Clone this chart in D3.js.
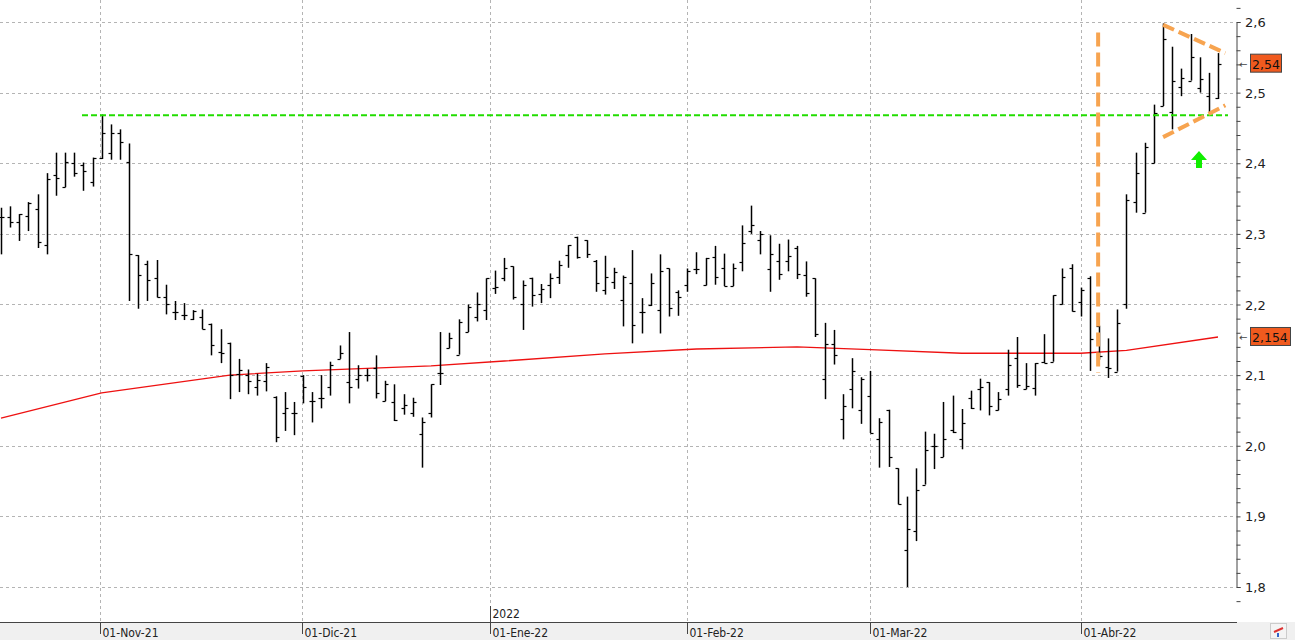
<!DOCTYPE html>
<html><head><meta charset="utf-8">
<script src="https://cdn.jsdelivr.net/npm/d3@7"></script>
<style>body{margin:0;background:#fff}svg{display:block}</style>
</head><body><svg id="c" width="1295" height="640"></svg>
<script>
// OHLC bars, one per trading day (index 0..133)
const open  = [2.324,2.324,2.317,2.326,2.335,2.284,2.383,2.367,2.400,2.398,2.373,2.407,2.415,2.443,2.402,2.270,2.257,2.238,2.210,2.190,2.185,2.179,2.183,2.173,2.133,2.146,2.101,2.100,2.083,2.092,2.069,2.046,2.047,2.099,2.063,2.067,2.083,2.123,2.090,2.095,2.100,2.110,2.063,2.062,2.054,2.047,2.016,2.046,2.103,2.139,2.129,2.161,2.183,2.192,2.223,2.238,2.254,2.201,2.238,2.215,2.227,2.239,2.270,2.296,2.291,2.262,2.220,2.232,2.206,2.230,2.190,2.199,2.192,2.251,2.218,2.227,2.250,2.227,2.267,2.251,2.226,2.260,2.304,2.291,2.250,2.262,2.262,2.280,2.242,2.237,2.095,2.144,2.038,2.080,2.050,2.070,2.009,2.050,1.968,1.853,1.879,1.945,1.999,1.984,2.023,2.009,2.067,2.080,2.090,2.050,2.080,2.124,2.080,2.082,2.119,2.119,2.200,2.251,2.204,2.238,2.170,2.112,2.105,2.200,2.345,2.330,2.400,2.481,2.472,2.508,2.517,2.507,2.495,2.492];
const high  = [2.337,2.339,2.328,2.345,2.356,2.386,2.415,2.415,2.415,2.401,2.408,2.469,2.455,2.448,2.428,2.270,2.262,2.263,2.228,2.205,2.202,2.192,2.193,2.173,2.165,2.146,2.123,2.108,2.102,2.117,2.070,2.076,2.062,2.100,2.076,2.100,2.119,2.142,2.161,2.114,2.109,2.128,2.092,2.087,2.073,2.068,2.040,2.087,2.161,2.160,2.179,2.200,2.217,2.237,2.248,2.266,2.254,2.234,2.238,2.229,2.244,2.262,2.284,2.296,2.291,2.263,2.269,2.252,2.241,2.277,2.209,2.244,2.271,2.251,2.220,2.251,2.274,2.266,2.283,2.272,2.258,2.312,2.340,2.304,2.298,2.286,2.292,2.283,2.261,2.237,2.174,2.164,2.073,2.124,2.097,2.106,2.039,2.051,1.968,1.928,1.968,2.020,2.017,2.062,2.071,2.052,2.078,2.095,2.090,2.076,2.136,2.154,2.117,2.117,2.158,2.213,2.251,2.257,2.224,2.240,2.170,2.152,2.193,2.356,2.415,2.429,2.483,2.598,2.565,2.534,2.583,2.550,2.528,2.556];
const low   = [2.271,2.309,2.290,2.304,2.280,2.271,2.354,2.366,2.381,2.361,2.367,2.406,2.405,2.405,2.205,2.194,2.205,2.210,2.186,2.178,2.178,2.178,2.165,2.128,2.117,2.066,2.076,2.073,2.071,2.077,2.005,2.021,2.015,2.060,2.033,2.053,2.071,2.123,2.060,2.081,2.091,2.067,2.063,2.035,2.044,2.041,1.969,2.040,2.086,2.138,2.129,2.161,2.176,2.178,2.215,2.233,2.207,2.164,2.197,2.202,2.209,2.229,2.252,2.265,2.266,2.218,2.214,2.222,2.169,2.145,2.159,2.198,2.159,2.183,2.184,2.218,2.243,2.227,2.228,2.226,2.226,2.247,2.300,2.271,2.218,2.235,2.247,2.236,2.211,2.154,2.066,2.115,2.009,2.053,2.031,2.018,1.969,1.970,1.917,1.800,1.865,1.945,1.967,1.984,2.018,1.995,2.052,2.050,2.043,2.050,2.071,2.082,2.080,2.071,2.117,2.119,2.200,2.190,2.183,2.106,2.122,2.096,2.105,2.194,2.330,2.330,2.400,2.481,2.448,2.495,2.517,2.500,2.472,2.491];
const close = [2.324,2.317,2.328,2.344,2.289,2.377,2.379,2.402,2.386,2.389,2.407,2.443,2.443,2.430,2.271,2.242,2.235,2.211,2.200,2.190,2.185,2.191,2.165,2.142,2.132,2.100,2.107,2.092,2.093,2.112,2.013,2.054,2.047,2.083,2.063,2.067,2.115,2.132,2.083,2.100,2.100,2.074,2.087,2.036,2.058,2.062,2.034,2.087,2.103,2.152,2.175,2.196,2.201,2.237,2.225,2.251,2.210,2.228,2.213,2.222,2.238,2.256,2.284,2.267,2.272,2.230,2.239,2.246,2.239,2.171,2.189,2.230,2.247,2.195,2.210,2.248,2.250,2.266,2.239,2.226,2.252,2.287,2.312,2.300,2.271,2.243,2.268,2.243,2.216,2.158,2.144,2.128,2.056,2.106,2.094,2.018,2.033,1.984,1.917,1.882,1.938,1.994,1.999,2.009,2.020,2.032,2.053,2.083,2.056,2.066,2.114,2.086,2.084,2.117,2.117,2.213,2.239,2.191,2.220,2.151,2.127,2.110,2.174,2.348,2.386,2.423,2.471,2.576,2.517,2.521,2.550,2.520,2.473,2.541];
// moving average read at selected bar indices
const maIdx = [0,11,25,33,47,55,66,76,87,95,105,118,123,133];
const maVal = [2.039,2.075,2.100,2.106,2.113,2.120,2.130,2.137,2.140,2.136,2.131,2.131,2.135,2.154];
const monthIdx = [10.8,32.9,53.4,75,95,118];
const monthLabels = ["01-Nov-21","01-Dic-21","01-Ene-22","01-Feb-22","01-Mar-22","01-Abr-22"];
const yTicks = [1.8,1.9,2.0,2.1,2.2,2.3,2.4,2.5,2.6];
const resistance = 2.468;
const vLineIdx = 119.9, vLine = [2.103,2.585];
const triUpper = [[127,2.596],[133.8,2.556]];
const triLower = [[127,2.437],[133.8,2.482]];
const lastPrice = "2,54", lastMA = "2,154";

const svg = d3.select("#c");
const x = d3.scaleLinear().domain([0,133]).range([1,1218]);
const y = d3.scaleLinear().domain([1.8,2.6]).range([587,22]);
const fmt = v => d3.format(".1f")(v).replace(".",",");

svg.append("rect").attr("x",0).attr("y",622).attr("width",1295).attr("height",18).attr("fill","#f0f0f0");
svg.append("g").selectAll("line").data(yTicks).join("line")
  .attr("x1",0).attr("x2",1236).attr("y1",d=>Math.round(y(d))+.5).attr("y2",d=>Math.round(y(d))+.5)
  .attr("stroke","#b4b4b4").attr("stroke-dasharray","3,3");
svg.append("g").selectAll("line").data(monthIdx).join("line")
  .attr("x1",d=>Math.round(x(d))+.5).attr("x2",d=>Math.round(x(d))+.5).attr("y1",0).attr("y2",622)
  .attr("stroke","#b4b4b4").attr("stroke-dasharray","3,3");
const ya = svg.append("g").attr("transform","translate(1236.5,0)")
  .call(d3.axisRight(y).tickValues(d3.range(1.78,2.621,0.02)).tickSize(4).tickFormat(""));
ya.select(".domain").attr("stroke","#444");
ya.selectAll(".tick line").attr("stroke","#444");
svg.append("g").selectAll("text").data(yTicks).join("text")
  .attr("x",1245).attr("y",d=>y(d)+5).text(fmt)
  .attr("font-family","DejaVu Sans, sans-serif").attr("font-size",13).attr("fill","#222");
svg.append("line").attr("x1",0).attr("x2",1237).attr("y1",622.5).attr("y2",622.5).attr("stroke","#444");
const xa = svg.append("g");
monthIdx.forEach((d,i)=>{
  const px = Math.round(x(d))+.5;
  xa.append("line").attr("x1",px).attr("x2",px).attr("y1",622).attr("y2",634).attr("stroke","#444");
  xa.append("text").attr("x",px+2).attr("y",637).text(monthLabels[i])
    .attr("font-family","DejaVu Sans Condensed, DejaVu Sans, sans-serif").attr("font-stretch","condensed")
    .attr("font-size",12).attr("fill","#222");
});
const jx = Math.round(x(monthIdx[2]))+.5;
xa.append("line").attr("x1",jx).attr("x2",jx).attr("y1",606).attr("y2",622).attr("stroke","#444");
xa.append("text").attr("x",jx+2).attr("y",618).text("2022")
  .attr("font-family","DejaVu Sans Condensed, DejaVu Sans, sans-serif").attr("font-stretch","condensed")
  .attr("font-size",12).attr("fill","#222");

svg.append("path").datum(maIdx.map((d,i)=>[d,maVal[i]]))
  .attr("d",d3.line().x(d=>x(d[0])).y(d=>y(d[1])))
  .attr("fill","none").attr("stroke","#ee1111").attr("stroke-width",1.3);

const g = svg.append("g").attr("stroke","#000").attr("stroke-width",1.5);
open.forEach((o,i)=>{
  const px = Math.round(x(i))+.5;
  g.append("line").attr("x1",px).attr("x2",px).attr("y1",y(high[i])).attr("y2",y(low[i]));
  g.append("line").attr("x1",px-3).attr("x2",px).attr("y1",Math.round(y(o))+.5).attr("y2",Math.round(y(o))+.5).attr("stroke-width",1.2);
  g.append("line").attr("x1",px).attr("x2",px+3).attr("y1",Math.round(y(close[i]))+.5).attr("y2",Math.round(y(close[i]))+.5).attr("stroke-width",1.2);
});

svg.append("line").attr("x1",82).attr("x2",1228).attr("y1",y(resistance)).attr("y2",y(resistance))
  .attr("stroke","#22dd00").attr("stroke-width",2).attr("stroke-dasharray","6,3");
svg.append("line").attr("x1",x(vLineIdx)).attr("x2",x(vLineIdx)).attr("y1",y(vLine[1])).attr("y2",y(vLine[0]))
  .attr("stroke","#f7a450").attr("stroke-width",4).attr("stroke-dasharray","14,6");
[triUpper,triLower].forEach(t=>{
  svg.append("line").attr("x1",x(t[0][0])).attr("y1",y(t[0][1])).attr("x2",x(t[1][0])).attr("y2",y(t[1][1]))
    .attr("stroke","#f7a450").attr("stroke-width",4).attr("stroke-dasharray","12,5");
});
svg.append("path").attr("d","M1199,151 L1207,160 L1202,160 L1202,168 L1196,168 L1196,160 L1191,160 Z").attr("fill","#11ee00");

function tag(val,txt,w){
  const yy = y(val);
  svg.append("text").attr("x",1239).attr("y",yy+4).text("←").attr("font-size",10).attr("fill","#444").attr("font-family","DejaVu Sans");
  svg.append("rect").attr("x",1250.5).attr("y",yy-9.5).attr("width",w).attr("height",18).attr("fill","#f05a1e").attr("stroke","#444");
  svg.append("text").attr("x",1252).attr("y",yy+5).text(txt).attr("font-family","DejaVu Sans, sans-serif").attr("font-size",12.5).attr("fill","#111");
}
tag(close[133],lastPrice,31);
tag(maVal[maVal.length-1],lastMA,40);
svg.append("rect").attr("x",1270.5).attr("y",623.5).attr("width",16).attr("height",15).attr("fill","#f4f4f4").attr("stroke","#ccc");
svg.append("path").attr("d","M1274,632 L1283,628").attr("stroke","#d33").attr("stroke-width",2);
svg.append("path").attr("d","M1278,637 L1278,633").attr("stroke","#36c").attr("stroke-width",2);
</script></body></html>
